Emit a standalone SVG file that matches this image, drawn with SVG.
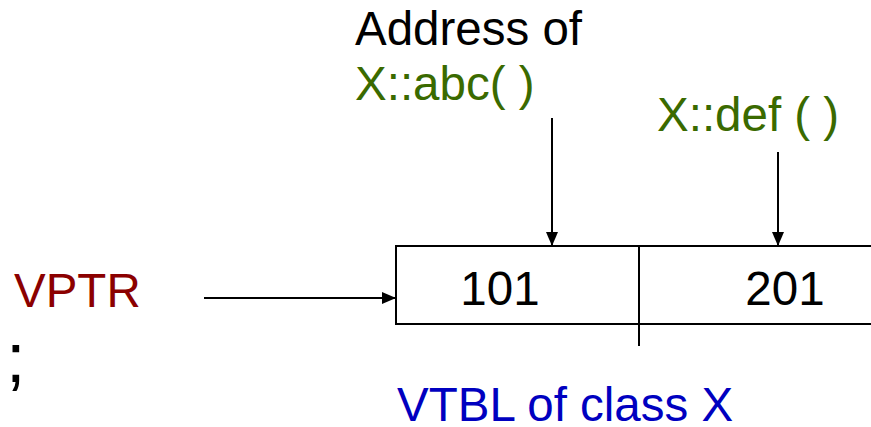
<svg xmlns="http://www.w3.org/2000/svg" width="871" height="427" viewBox="0 0 871 427">
  <style>
    text { font-family: "Liberation Sans", Arial, sans-serif; font-size: 47.5px; }
    .black { fill: #000000; }
    .green { fill: #3a6a00; }
    .red { fill: #8b0000; }
    .blue { fill: #0000c0; }
    .line { stroke: #000000; stroke-width: 2; fill: none; }
  </style>
  <defs>
    <marker id="arrow" markerWidth="14" markerHeight="12" refX="14" refY="6" orient="auto" markerUnits="userSpaceOnUse">
      <path d="M0,0 L14,6 L0,12 Z" fill="#000000"/>
    </marker>
  </defs>
  <rect width="871" height="427" fill="#ffffff"/>

  <!-- pointer label -->
  <g id="vptr">
    <text class="red" x="14" y="307">VPTR</text>
  </g>
  <g id="semicolon">
    <text class="black" x="6" y="382" style="font-size:70px">;</text>
  </g>

  <!-- function address labels -->
  <g id="label-abc">
    <text class="black" x="355" y="45">Address of</text>
    <text class="green" x="355" y="100">X::abc( )</text>
  </g>
  <g id="label-def">
    <text class="green" x="657" y="131">X::def ( )</text>
  </g>

  <!-- virtual table -->
  <g id="vtbl">
    <polyline class="line" points="880,246 396,246 396,324 880,324"/>
    <line class="line" x1="639" y1="246" x2="639" y2="346"/>
    <text class="black" x="500" y="305" text-anchor="middle">101</text>
    <text class="black" x="785" y="305" text-anchor="middle">201</text>
  </g>
  <g id="vtbl-caption">
    <text class="blue" x="397" y="421">VTBL of class X</text>
  </g>

  <!-- connectors -->
  <g id="connectors">
    <line class="line" x1="204" y1="298" x2="396" y2="298" marker-end="url(#arrow)"/>
    <line class="line" x1="552" y1="118" x2="552" y2="246" marker-end="url(#arrow)"/>
    <line class="line" x1="778" y1="152" x2="778" y2="246" marker-end="url(#arrow)"/>
  </g>
</svg>
